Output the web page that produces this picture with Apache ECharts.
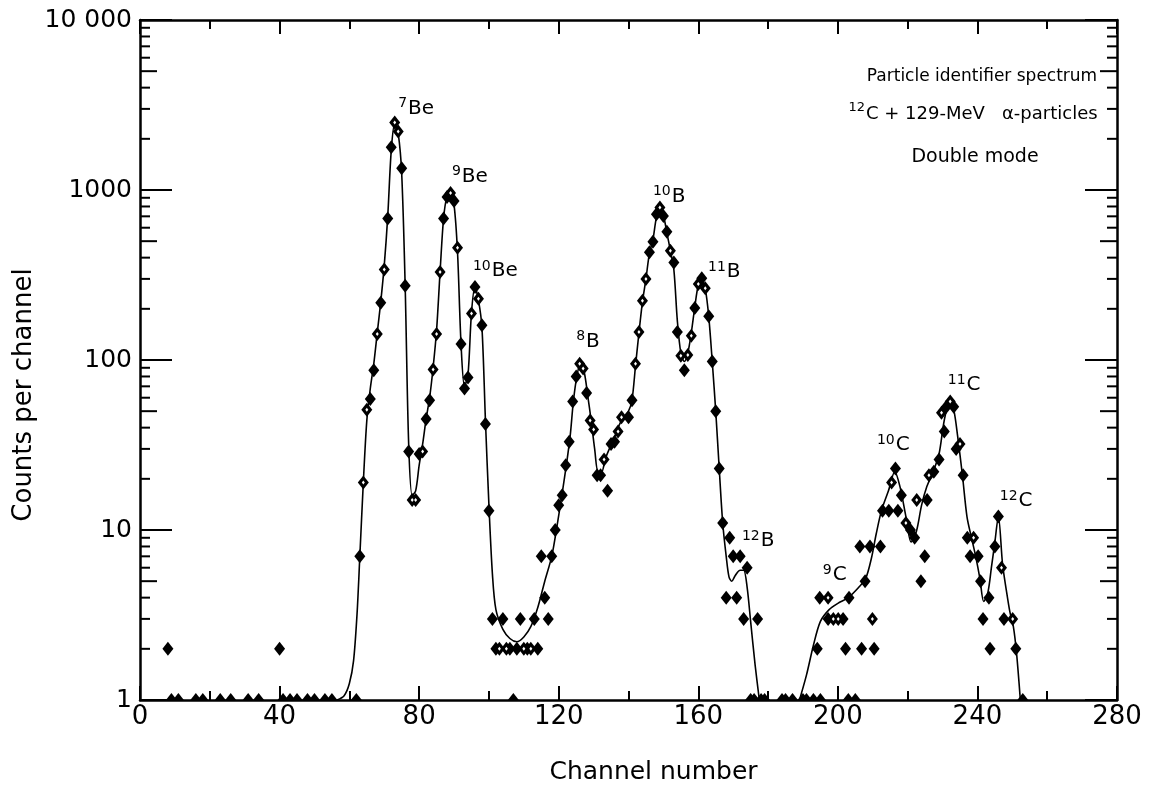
<!DOCTYPE html>
<html>
<head>
<meta charset="utf-8">
<script src="https://cdn.jsdelivr.net/npm/echarts@6.0.0/dist/echarts.min.js"></script>
<style>
  html, body { margin: 0; padding: 0; background: #fff; }
  #chart { width: 1154px; height: 790px; }
</style>
</head>
<body>
<div id="chart"></div>
<script>
// Particle identifier spectrum, 12C + 129-MeV alpha particles (double mode)
// Measured counts per channel: [channel, counts]
const lowChannelCounts = [[8, 2], [40, 2]];

const berylliumCounts = [
  [63, 7], [64, 19], [65, 51], [66, 59], [67, 87], [68, 142], [69, 217], [70, 341],
  [71, 680], [72, 1786], [73, 2494], [74, 2208], [75, 1343], [76, 273], [77, 29],
  [78, 15], [79, 15], [80, 28], [81, 29], [82, 45], [83, 58], [84, 88], [85, 142],
  [86, 329], [87, 680], [88, 910], [89, 960], [90, 863], [91, 457], [92, 124],
  [93, 68], [94, 79], [95, 188], [96, 269], [97, 229], [98, 160], [99, 42], [100, 13]
];

const valleyCounts = [
  [101, 3], [102, 2], [103, 2], [104, 3], [105, 2], [106, 2], [108, 2], [109, 3],
  [110, 2], [111, 2], [112, 2], [113, 3], [114, 2], [115, 7], [116, 4], [117, 3],
  [118, 7], [119, 10], [120, 14], [121, 16], [122, 24]
];

const boronCounts = [
  [123, 33], [124, 57], [125, 80], [126, 95], [127, 89], [128, 64], [129, 44], [130, 39],
  [131, 21], [132, 21], [133, 26], [134, 17], [135, 32], [136, 33], [137, 38], [138, 46],
  [140, 46], [141, 58], [142, 95], [143, 146], [144, 223], [145, 300], [146, 430],
  [147, 496], [148, 720], [149, 789], [150, 704], [151, 568], [152, 439], [153, 375],
  [154, 146], [155, 106], [156, 87], [157, 107], [158, 139], [159, 202], [160, 280],
  [161, 303], [162, 264], [163, 181], [164, 98], [165, 50], [166, 23], [167, 11],
  [168, 4], [169, 9], [170, 7], [171, 4], [172, 7], [173, 3], [174, 6], [177, 3]
];

const carbonCounts = [
  [194.1, 2], [194.8, 4], [197.2, 4], [197.2, 3], [198.7, 3], [200.1, 3], [201.5, 3],
  [202.2, 2], [203.2, 4], [206.3, 8], [206.8, 2], [207.8, 5], [209.2, 8], [209.9, 3],
  [210.4, 2], [212.2, 8], [212.8, 13], [214.6, 13], [215.4, 19], [216.5, 23], [217.2, 13],
  [218.2, 16], [219.5, 11], [220.8, 10], [222.0, 9], [222.6, 15], [223.8, 5], [224.9, 7],
  [225.6, 15], [226.1, 21], [227.5, 22], [229.0, 26], [229.7, 49], [230.5, 38], [231.1, 53],
  [232.2, 57], [233.2, 53], [233.9, 30], [235.0, 32], [235.9, 21], [237.1, 9], [237.9, 7],
  [238.9, 9], [240.2, 7], [240.9, 5], [241.6, 3], [243.3, 4], [243.6, 2], [245.0, 8],
  [246.0, 12], [246.9, 6], [247.6, 3], [250.1, 3], [251.0, 2]
];

// Channels holding a single count (drawn as half-diamonds on the baseline)
const singleCountChannels = [
  9, 11, 16, 18, 23, 26, 31, 34, 41, 43, 45, 48, 50, 53, 55, 62, 107,
  175, 176, 178, 179, 184, 185, 187, 190, 191, 193, 195, 203, 205, 253
];

// Channels whose diamond is drawn open (white centre)
const openMarkerChannels = [
  64, 65, 68, 70, 73, 74, 78, 79, 81, 84, 85, 86, 89, 91, 95, 97,
  103, 105, 110, 112,
  126, 127, 129, 130, 133, 137, 138, 142, 143, 144, 145, 149, 152, 155, 157, 158, 160, 162,
  197.2, 198.7, 200.1, 209.9, 215.4, 219.5, 222.6, 226.1, 229.7, 232.2, 235.0, 238.9, 246.9, 250.1
];

// Hand-drawn fit curve through the Be/B groups and the C group
const fitCurveBeB = [
  [56.5, 1], [58.5, 1.06], [60, 1.25], [61.2, 1.7], [62.2, 3.2], [63, 7], [64, 19], [65, 44],
  [66, 68], [67, 95], [68, 145], [69, 220], [70, 360], [71, 700], [72, 1700], [73, 2450],
  [74, 2150], [75, 1250], [76, 270], [77, 32], [78, 16], [79, 17], [80, 24], [81, 32],
  [82, 45], [83, 60], [84, 90], [85, 150], [86, 330], [87, 680], [88, 920], [89, 950],
  [90, 820], [91, 430], [92, 125], [93, 70], [94, 82], [95, 190], [96, 268], [97, 225],
  [98, 155], [99, 44], [100, 14], [101, 5.5], [102, 3.4], [104, 2.6], [106, 2.3], [108, 2.2],
  [110, 2.35], [112, 2.7], [114, 3.5], [116, 5], [118, 7], [119.5, 10.5], [121, 16.5],
  [122.3, 25], [123.3, 36], [124.2, 57], [125.2, 80], [126.2, 95], [127.3, 85], [128.3, 62],
  [129.3, 44], [130.3, 30], [131.3, 22], [132.3, 22], [133.3, 26], [134.5, 30], [135.5, 33],
  [137, 40], [138.5, 46], [140, 50], [141, 58], [142, 92], [143, 145], [144, 220], [145, 300],
  [146, 425], [147, 510], [148, 690], [149, 790], [150, 710], [151, 560], [152, 440],
  [153, 340], [154, 170], [155, 110], [156, 98], [157, 110], [158, 145], [159, 205],
  [160, 275], [161, 295], [162, 262], [163, 180], [164, 98], [165, 50], [166, 23], [167, 11],
  [168, 7], [168.8, 5.3], [169.6, 5], [170.6, 5.4], [172, 5.8], [173, 5.8], [174, 4.6],
  [175, 2.9], [176.3, 1.6], [177.5, 1]
];

const fitCurveC = [
  [189, 1], [191, 1.4], [193, 2.1], [195, 2.9], [197.5, 3.4], [200, 3.7], [203, 4], [206, 4.6],
  [208, 5.2], [209.6, 6.8], [211, 9.5], [212.5, 13], [214.5, 17], [216.3, 22], [217.8, 18],
  [219.5, 12], [221, 8.5], [222.5, 9.8], [224, 14], [225.5, 18], [227.3, 22], [229, 28],
  [230.3, 42], [231.3, 52], [232.3, 57], [233.3, 50], [234.3, 36], [235.7, 21], [237, 12],
  [238.3, 9], [239.5, 7], [240.7, 5.2], [241.8, 3.8], [243, 4.3], [244, 6], [245, 8.5],
  [246, 12], [247.2, 6.3], [248.3, 4.4], [249.3, 3.3], [250.3, 2.7], [251.2, 1.9], [252.3, 1]
];

// Log-axis minor tick values between decades
const minorTickValues = [
  2, 3, 4, 5, 6, 7, 8, 9,
  20, 30, 40, 50, 60, 70, 80, 90,
  200, 300, 400, 500, 600, 700, 800, 900,
  2000, 3000, 4000, 5000, 6000, 7000, 8000, 9000
];

// Isotope labels: [mass number, element, channel, counts] of the label anchor
const peakLabels = [
  ['7', 'Be', 74.0, 3050], ['9', 'Be', 89.4, 1220], ['10', 'Be', 95.4, 338],
  ['8', 'B', 125.0, 130], ['10', 'B', 147.0, 930], ['11', 'B', 162.8, 334],
  ['12', 'B', 172.5, 8.7], ['9', 'C', 195.7, 5.5], ['10', 'C', 211.2, 32],
  ['11', 'C', 231.5, 72], ['12', 'C', 246.4, 15]
];

const FONT = 'DejaVu Sans';
const INK = '#000';

const chart = echarts.init(document.getElementById('chart'), null, { renderer: 'canvas' });

const xAxisBase = {
  type: 'value', min: 0, max: 280, interval: 40,
  axisLine: { show: true, onZero: false, lineStyle: { color: INK, width: 2.5 } },
  axisTick: { show: true, inside: true, length: 14, lineStyle: { color: INK, width: 2 } },
  minorTick: { show: true, splitNumber: 2, length: 9, lineStyle: { color: INK, width: 2 } },
  splitLine: { show: false }, minorSplitLine: { show: false }
};

const yAxisBase = {
  type: 'log', logBase: 10, min: 1, max: 10000,
  axisLine: { show: true, onZero: false, lineStyle: { color: INK, width: 2.5 } },
  axisTick: { show: true, inside: true, length: 32, lineStyle: { color: INK, width: 2 } },
  splitLine: { show: false }
};

const allCounts = [].concat(lowChannelCounts, berylliumCounts, valleyCounts, boronCounts, carbonCounts);
const openCounts = openMarkerChannels
  .map(c => allCounts.find(p => p[0] === c))
  .filter(Boolean);

const option = {
  backgroundColor: '#fff',
  animation: false,
  grid: { left: 140, top: 20, width: 977, height: 682, containLabel: false },
  xAxis: [
    Object.assign({}, xAxisBase, {
      position: 'bottom',
      name: 'Channel number', nameLocation: 'middle', nameGap: 60,
      nameTextStyle: { fontFamily: FONT, fontSize: 25, color: INK, padding: [0, 0, 0, 50] },
      axisLabel: { fontFamily: FONT, fontSize: 26, color: INK, margin: 4 }
    }),
    Object.assign({}, xAxisBase, { position: 'top', axisLabel: { show: false } })
  ],
  yAxis: [
    Object.assign({}, yAxisBase, {
      position: 'left',
      axisLabel: {
        fontFamily: FONT, fontSize: 25, color: INK, margin: 8,
        formatter: v => (v === 10000 ? '10 000' : String(v))
      }
    }),
    Object.assign({}, yAxisBase, { position: 'right', axisLabel: { show: false } })
  ],
  graphic: [
    {
      type: 'text', x: 24, y: 395, rotation: Math.PI / 2,
      style: { text: 'Counts per channel', fontFamily: FONT, fontSize: 26, fill: INK, align: 'center', verticalAlign: 'middle' }
    },
    {
      type: 'text', x: 982, y: 77,
      style: { text: 'Particle identifier spectrum', fontFamily: FONT, fontSize: 17, fill: INK, align: 'center', verticalAlign: 'middle' }
    },
    {
      type: 'text', x: 973, y: 112,
      style: {
        text: '{s|12}{n|C + 129-MeV   α-particles}', fill: INK, align: 'center', verticalAlign: 'middle',
        rich: {
          s: { fontFamily: FONT, fontSize: 13, verticalAlign: 'top', lineHeight: 14, fill: INK },
          n: { fontFamily: FONT, fontSize: 18, verticalAlign: 'bottom', lineHeight: 22, padding: [4, 0, 0, 1], fill: INK }
        }
      }
    },
    {
      type: 'text', x: 975, y: 157,
      style: { text: 'Double mode', fontFamily: FONT, fontSize: 19, fill: INK, align: 'center', verticalAlign: 'middle' }
    }
  ],
  series: [
    {
      type: 'line', name: 'fitBeB', data: fitCurveBeB, symbol: 'none', smooth: 0.3,
      lineStyle: { color: INK, width: 1.6 }, z: 2, silent: true
    },
    {
      type: 'line', name: 'fitC', data: fitCurveC, symbol: 'none', smooth: 0.3,
      lineStyle: { color: INK, width: 1.6 }, z: 2, silent: true
    },
    {
      type: 'scatter', name: 'counts', data: allCounts, symbol: 'diamond', symbolSize: [11, 14],
      itemStyle: { color: INK, opacity: 1 }, z: 3
    },
    {
      type: 'scatter', name: 'openCentres', data: openCounts, symbol: 'diamond', symbolSize: [3, 4],
      itemStyle: { color: '#fff', opacity: 1 }, z: 4, silent: true
    },
    {
      type: 'scatter', name: 'single', data: singleCountChannels.map(c => [c, 1]),
      symbol: 'triangle', symbolSize: [11, 7], symbolOffset: [0, -3.5],
      itemStyle: { color: INK, opacity: 1 }, z: 3, clip: false
    },
    {
      type: 'custom', name: 'minorTicks', silent: true, z: 4,
      data: minorTickValues.map(v => [0, v]),
      encode: { x: 0, y: 1 },
      renderItem: (params, api) => {
        const v = api.value(1);
        const l = api.coord([0, v]);
        const r = api.coord([280, v]);
        const len = String(v).charAt(0) === '5' ? 17 : 10;
        const st = { stroke: INK, lineWidth: 2 };
        return {
          type: 'group',
          children: [
            { type: 'line', shape: { x1: l[0], y1: l[1], x2: l[0] + len, y2: l[1] }, style: st },
            { type: 'line', shape: { x1: r[0] - len, y1: r[1], x2: r[0], y2: r[1] }, style: st }
          ]
        };
      }
    },
    {
      type: 'scatter', name: 'isotopes', symbolSize: 0, silent: true, z: 5,
      itemStyle: { opacity: 1 },
      data: peakLabels.map(p => ({ value: [p[2], p[3]], mass: p[0], el: p[1] })),
      label: {
        show: true, position: 'right', distance: 0, color: INK, opacity: 1,
        formatter: p => '{m|' + p.data.mass + '}{e|' + p.data.el + '}',
        rich: {
          m: { fontFamily: FONT, fontSize: 14, verticalAlign: 'top', lineHeight: 16, color: INK },
          e: { fontFamily: FONT, fontSize: 20, verticalAlign: 'bottom', lineHeight: 22, padding: [8, 0, 0, 1], color: INK }
        }
      }
    }
  ]
};

chart.setOption(option);
</script>
</body>
</html>
